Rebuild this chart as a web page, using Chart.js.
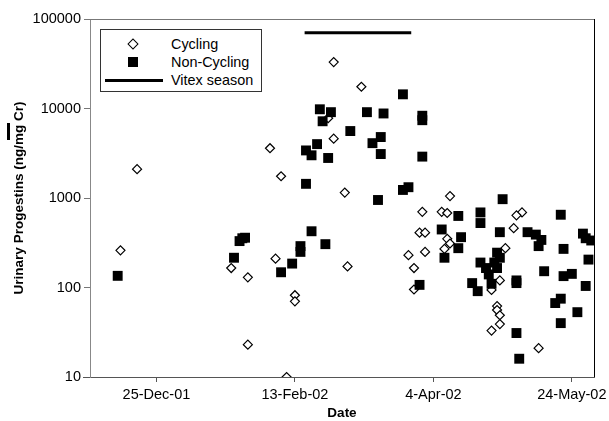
<!DOCTYPE html>
<html>
<head>
<meta charset="utf-8">
<script src="https://cdn.jsdelivr.net/npm/chart.js@4.4.1/dist/chart.umd.min.js"></script>
<style>
  body{margin:0;background:#fff;}
  #wrap{position:relative;width:609px;height:421px;}
  #legend{position:absolute;left:100px;top:29px;width:160px;height:61px;border:1px solid #333;background:#fff;font:14.4px "Liberation Sans",Arial,sans-serif;color:#000;}
  .row{position:absolute;left:0;width:160px;height:18px;line-height:18px;}
  .row .t{position:absolute;left:70px;top:0;white-space:nowrap;}
  .dia{position:absolute;left:28px;top:5px;width:6px;height:6px;border:1.3px solid #000;transform:rotate(45deg);background:#fff;}
  .sq{position:absolute;left:27px;top:4px;width:10px;height:10px;background:#000;}
  .ln{position:absolute;left:4px;top:8px;width:58px;height:3px;background:#000;}
</style>
</head>
<body>
<div id="wrap">
  <canvas id="chart" width="609" height="421"></canvas>
  <div id="legend">
    <div class="row" style="top:5px"><i class="dia"></i><span class="t">Cycling</span></div>
    <div class="row" style="top:23px"><i class="sq"></i><span class="t">Non-Cycling</span></div>
    <div class="row" style="top:41px"><i class="ln"></i><span class="t">Vitex season</span></div>
  </div>
</div>
<script>
// days counted from 25-Dec-01
const xTickDays = [0, 50, 100, 150];
const xTickLabels = ['25-Dec-01', '13-Feb-02', '4-Apr-02', '24-May-02'];
const yTicks = [10, 100, 1000, 10000, 100000];

const cycDays = [-13, -7, 27, 33, 33, 43, 41, 45, 50, 50, 47, 64, 74, 64, 62, 68, 69,
  96, 95, 97, 97, 91, 93, 93, 106, 103, 105, 105, 106, 104, 126, 124, 121, 123, 123, 124, 124, 121,
  132, 130, 129, 138];
const cycVals = [260, 2100, 165, 130, 23, 210, 3600, 1750, 82, 70, 10, 33000, 17500, 4600, 7800, 1150, 172,
  700, 410, 410, 250, 230, 165, 95, 1050, 700, 680, 350, 310, 270, 275, 120, 94, 62, 56, 49, 39, 33,
  690, 640, 460, 21];

const nonDays = [-14, 31, 30, 32, 28, 45, 49, 52, 52, 56, 61, 54, 80, 89, 91,
  59, 63, 60, 76, 82, 89, 70, 81, 78, 81, 58, 54, 56, 62, 96, 96, 96, 95,
  125, 109, 117, 117, 146, 103, 110, 109, 104, 124, 134, 137, 139, 138, 147,
  154, 155, 157, 156, 155, 147, 150, 140, 130, 146, 144, 152, 146, 130, 131,
  117, 119, 122, 123, 124, 120, 123, 114, 116, 121, 130];
const nonVals = [135, 355, 330, 360, 215, 148, 185, 290, 250, 425, 305, 1440, 950, 1230, 1320,
  9800, 9100, 7200, 9100, 8800, 14400, 5600, 4800, 4100, 3100, 4000, 3400, 3000, 2800, 2900, 8300, 7400, 107,
  970, 630, 690, 525, 650, 445, 365, 275, 215, 415, 415, 390, 340, 290, 270,
  400, 355, 335, 205, 104, 134, 142, 152, 120, 75, 67, 53, 40, 31, 16,
  190, 165, 190, 245, 215, 140, 165, 112, 91, 110, 112];

const vitexDays = [53.5, 92];
const vitexVals = [70000, 70000];

const pts = (xs, ys) => xs.map((x, i) => ({x: x, y: ys[i]}));

const framePlugin = {
  id: 'frame',
  afterDraw(chart) {
    const {ctx, chartArea: a} = chart;
    ctx.save();
    ctx.lineWidth = 1;
    ctx.strokeStyle = '#777';
    ctx.beginPath();
    ctx.moveTo(a.left, a.top + 0.5);
    ctx.lineTo(a.right, a.top + 0.5);
    ctx.stroke();
    ctx.strokeStyle = '#000';
    ctx.beginPath();
    ctx.moveTo(a.right + 0.5, a.top);
    ctx.lineTo(a.right + 0.5, a.bottom);
    ctx.stroke();
    ctx.strokeStyle = '#555';
    ctx.beginPath();
    ctx.moveTo(a.left - 7, a.bottom + 0.5);
    ctx.lineTo(a.left, a.bottom + 0.5);
    ctx.stroke();
    // small overline mark next to the axis title
    ctx.fillStyle = '#000';
    ctx.fillRect(7, 123, 3, 17);
    ctx.restore();
  }
};

const fontFam = '"Liberation Sans", Arial, sans-serif';

new Chart(document.getElementById('chart'), {
  type: 'scatter',
  data: {
    datasets: [
      {
        label: 'Non-Cycling',
        data: pts(nonDays, nonVals),
        pointStyle: 'rect',
        pointRadius: 7,
        backgroundColor: '#000',
        borderColor: '#000',
        borderWidth: 0,
        order: 1
      },
      {
        label: 'Cycling',
        data: pts(cycDays, cycVals),
        pointStyle: 'rectRot',
        pointRadius: 4.5,
        backgroundColor: '#fff',
        borderColor: '#000',
        borderWidth: 1.2,
        order: 2
      },
      {
        label: 'Vitex season',
        data: pts(vitexDays, vitexVals),
        showLine: true,
        pointRadius: 0,
        borderColor: '#000',
        borderWidth: 3,
        order: 0
      }
    ]
  },
  options: {
    responsive: false,
    animation: false,
    layout: {padding: {top: 19, right: 15, left: 0, bottom: 0}},
    plugins: {legend: {display: false}, tooltip: {enabled: false}},
    scales: {
      x: {
        type: 'linear',
        min: -24,
        max: 158,
        afterBuildTicks: s => { s.ticks = xTickDays.map(v => ({value: v})); },
        afterFit: s => { s.height = 44; s.paddingLeft = 0; s.paddingRight = 0; },
        ticks: {
          color: '#000',
          font: {family: fontFam, size: 14.5},
          padding: 4,
          maxRotation: 0,
          callback: v => xTickLabels[xTickDays.indexOf(v)]
        },
        grid: {drawOnChartArea: false, drawTicks: true, tickLength: 5, tickColor: '#555'},
        border: {display: true, color: '#555'},
        title: {display: true, text: 'Date', color: '#000', font: {family: fontFam, size: 13.5, weight: 'bold'}, padding: {top: 0, bottom: 0}}
      },
      y: {
        type: 'logarithmic',
        min: 10,
        max: 100000,
        afterBuildTicks: s => { s.ticks = yTicks.map(v => ({value: v})); },
        afterFit: s => { s.width = 90; },
        ticks: {
          color: '#000',
          font: {family: fontFam, size: 14.5},
          padding: 3,
          callback: v => String(v)
        },
        grid: {drawOnChartArea: false, drawTicks: true, tickLength: 6, tickColor: '#777'},
        border: {display: true, color: '#888'},
        title: {display: true, text: 'Urinary Progestins (ng/mg Cr)', color: '#000', font: {family: fontFam, size: 13.5, weight: 'bold'}, padding: {top: 11, bottom: 0}}
      }
    }
  },
  plugins: [framePlugin]
});
</script>
</body>
</html>
